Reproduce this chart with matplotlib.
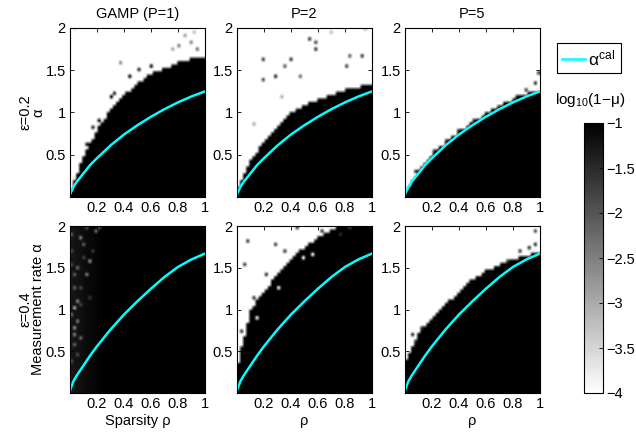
import numpy as np
import matplotlib.pyplot as plt
from matplotlib.lines import Line2D

plt.rcParams['font.family'] = ['Liberation Sans', 'DejaVu Sans']
plt.rcParams['mathtext.fontset'] = 'custom'
plt.rcParams['mathtext.rm'] = 'Liberation Sans'
plt.rcParams['mathtext.it'] = 'Liberation Sans:italic'
plt.rcParams['font.size'] = 10.5

# alpha_cal curves
rho_curve = [0, 0.025, 0.05, 0.1, 0.15, 0.2, 0.3, 0.4, 0.5, 0.6, 0.7, 0.8, 0.9, 1.0]
alpha_cal_eps02 = [0.03, 0.12, 0.18, 0.28, 0.38, 0.46, 0.61, 0.74, 0.85, 0.95, 1.04, 1.12, 1.19, 1.25]
alpha_cal_eps04 = [0.03, 0.14, 0.21, 0.33, 0.45, 0.56, 0.76, 0.94, 1.10, 1.25, 1.39, 1.51, 1.60, 1.67]

# upper edge of the solved (black) region, per rho
rho_edge = [0, 0.1, 0.2, 0.3, 0.4, 0.5, 0.6, 0.7, 0.8, 0.9, 1.0]
edge_p1_eps02 = [0.05, 0.48, 0.79, 1.03, 1.20, 1.33, 1.45, 1.51, 1.58, 1.63, 1.66]
edge_p2_eps02 = [0.10, 0.42, 0.66, 0.85, 0.99, 1.08, 1.15, 1.21, 1.26, 1.30, 1.33]
edge_p5_eps02 = [0.05, 0.31, 0.49, 0.64, 0.77, 0.88, 0.98, 1.07, 1.15, 1.21, 1.26]
edge_p1_eps04 = [2.1, 2.1, 2.1, 2.1, 2.1, 2.1, 2.1, 2.1, 2.1, 2.1, 2.1]
edge_p2_eps04 = [0.30, 1.00, 1.23, 1.41, 1.61, 1.75, 1.87, 1.95, 2.1, 2.1, 2.1]
edge_p5_eps04 = [0.35, 0.72, 0.90, 1.05, 1.22, 1.36, 1.46, 1.54, 1.60, 1.65, 1.68]

# isolated cells (rho, alpha, log10(1-mu))
dots_p1_eps02 = [(0.04, 1.97, -3.6), (0.365, 1.56, -2.6), (0.85, 1.88, -2.8), (0.9, 1.8, -2.5),
                 (0.93, 1.95, -3.2), (0.75, 1.72, -2.9), (0.8, 1.76, -2.4), (0.95, 1.72, -2.2),
                 (0.30, 1.18, -1.0), (0.22, 0.90, -1.0), (0.45, 1.42, -1.0), (0.6, 1.55, -1.0),
                 (0.12, 0.60, -1.2), (0.18, 0.82, -1.3), (0.33, 1.22, -1.4), (0.52, 1.48, -1.3)]
dots_p2_eps02 = [(0.19, 1.60, -1.6), (0.19, 1.37, -1.8), (0.29, 1.40, -1.4), (0.35, 1.52, -1.9),
                 (0.39, 1.62, -1.5), (0.47, 1.42, -2.2), (0.53, 1.85, -1.6), (0.57, 1.83, -1.8),
                 (0.57, 1.72, -1.5), (0.81, 1.52, -1.7), (0.92, 1.64, -1.5), (0.83, 1.66, -2.0),
                 (0.13, 0.85, -3.0), (0.34, 1.19, -3.0), (0.7, 1.93, -3.2), (0.95, 1.98, -3.0)]
dots_p5_eps02 = [(0.99, 1.46, -1.8), (0.955, 1.33, -1.5), (0.905, 1.27, -1.6), (0.82, 1.19, -1.3),
                 (0.69, 1.07, -1.5), (0.62, 0.99, -1.6), (0.51, 0.89, -1.5), (0.40, 0.76, -1.4),
                 (0.30, 0.64, -1.5), (0.22, 0.52, -1.6), (0.16, 0.42, -1.5), (0.09, 0.30, -1.6)]
dots_p1_eps04 = [(0.186, 1.92, -2.4), (0.15, 1.58, -2.8), (0.124, 1.43, -2.5), (0.05, 1.10, -2.6),
                 (0.037, 1.0, -3.0), (0.03, 0.78, -2.7), (0.037, 0.68, -2.5), (0.087, 0.64, -2.3),
                 (0.025, 0.58, -2.2), (0.06, 1.49, -2.3), (0.07, 1.85, -2.6), (0.11, 1.77, -2.2),
                 (0.22, 1.97, -2.0), (0.037, 1.27, -2.2), (0.017, 0.38, -2.0), (0.05, 0.86, -2.4),
                 (0.02, 1.70, -2.0), (0.09, 1.25, -1.9), (0.13, 1.96, -2.0), (0.03, 1.40, -2.1),
                 (0.01, 0.95, -2.3), (0.08, 1.05, -1.8), (0.14, 1.12, -1.7), (0.01, 1.55, -1.9),
                 (0.10, 1.62, -1.8), (0.17, 1.70, -1.7), (0.05, 0.45, -1.9), (0.01, 1.88, -2.2)]
dots_p2_eps04 = [(0.085, 1.81, -1.6), (0.29, 1.78, -1.7), (0.067, 1.54, -1.6), (0.21, 1.43, -1.5),
                 (0.44, 1.96, -1.6), (0.84, 1.99, -1.7), (0.75, 1.89, -1.5), (0.485, 1.62, -4.0),
                 (0.55, 1.67, -4.0), (0.30, 1.27, -4.0), (0.15, 0.88, -4.0), (0.04, 0.55, -1.3),
                 (0.03, 0.75, -1.5), (0.12, 1.15, -1.4), (0.36, 1.68, -1.5), (0.62, 1.95, -1.4)]
dots_p5_eps04 = [(0.97, 1.93, -1.8), (0.96, 1.77, -1.5), (0.92, 1.73, -1.4), (0.86, 1.69, -1.5),
                 (0.77, 1.56, -1.6), (0.05, 0.68, -1.4), (0.08, 0.62, -1.5), (0.12, 0.76, -1.6)]

# faint speckle haze in the low-rho columns of the P=1, eps=0.4 panel
haze_rho = [0, 0.05, 0.1, 0.15, 0.2, 0.25, 0.3]
haze_val = [-1.28, -1.22, -1.16, -1.1, -1.05, -1.02, -1.0]

titles = ['GAMP (P=1)', 'P=2', 'P=5']
edges = [[edge_p1_eps02, edge_p2_eps02, edge_p5_eps02],
         [edge_p1_eps04, edge_p2_eps04, edge_p5_eps04]]
dots = [[dots_p1_eps02, dots_p2_eps02, dots_p5_eps02],
        [dots_p1_eps04, dots_p2_eps04, dots_p5_eps04]]
curves = [alpha_cal_eps02, alpha_cal_eps04]

n_rho, n_alpha = 44, 50
rho_c = (np.arange(n_rho) + 0.5) / n_rho
alpha_c = (np.arange(n_alpha) + 0.5) / n_alpha * 2


def build_grid(edge, pts, haze=False):
    lim = np.interp(rho_c, rho_edge, edge)
    Z = np.where(alpha_c[:, None] < lim[None, :], -1.0, -4.0)
    if haze:
        Z = np.minimum(Z, np.interp(rho_c, haze_rho, haze_val)[None, :])
    for r, a, v in pts:
        i = min(int(a / 2 * n_alpha), n_alpha - 1)
        j = min(int(r * n_rho), n_rho - 1)
        Z[i, j] = v
    return Z


fig = plt.figure(figsize=(6.36, 4.38), dpi=100)
W, H = 636.0, 438.0
lefts = [70, 237, 405]
rows = [(28, 197), (226, 393)]

for r in range(2):
    for c in range(3):
        top, bot = rows[r]
        ax = fig.add_axes([lefts[c] / W, 1 - bot / H, 135 / W, (bot - top) / H])
        Z = build_grid(edges[r][c], dots[r][c], haze=(r == 1 and c == 0))
        im = ax.imshow(Z, extent=[0, 1, 0, 2], origin='lower', aspect='auto',
                       cmap='gray_r', vmin=-4, vmax=-1, interpolation='bilinear')
        ax.plot(rho_curve, curves[r], color='cyan', lw=1.8)
        ax.set_xlim(0, 1)
        ax.set_ylim(0, 2)
        ax.set_xticks([0.2, 0.4, 0.6, 0.8, 1])
        ax.set_xticklabels(['0.2', '0.4', '0.6', '0.8', '1'])
        ax.set_yticks([0.5, 1, 1.5, 2])
        ax.set_yticklabels(['0.5', '1', '1.5', '2'])
        ax.tick_params(direction='in', top=True, right=True, length=3, width=0.6,
                       labelsize=10.5, pad=3)
        for s in ax.spines.values():
            s.set_linewidth(0.8)
        if r == 0:
            ax.set_title(titles[c], fontsize=10.5, pad=7)
        if c == 0:
            ax.set_ylabel('ε=0.2\nα' if r == 0 else 'ε=0.4\nMeasurement rate α',
                          fontsize=10.5, labelpad=0, linespacing=0.9)
        if r == 1:
            ax.set_xlabel('Sparsity ρ' if c == 0 else 'ρ', fontsize=10.5, labelpad=2)

cax = fig.add_axes([584 / W, 1 - 393 / H, 19 / W, 270 / H])
cb = fig.colorbar(im, cax=cax, ticks=[-1, -1.5, -2, -2.5, -3, -3.5, -4])
cb.ax.set_yticklabels(['−1', '−1.5', '−2', '−2.5', '−3', '−3.5', '−4'])
cax.tick_params(direction='in', length=3, width=0.6, labelsize=10.5, pad=2)
cb.outline.set_linewidth(0.8)

fig.text(590 / W, 1 - 100 / H, r'log$_{10}$(1−μ)', ha='center', va='center', fontsize=11)

leg = fig.legend(handles=[Line2D([], [], color='cyan', lw=1.8)],
                 labels=[r'α$^{\rm cal}$'], loc='upper left',
                 bbox_to_anchor=(557 / W, 1 - 43 / H), fancybox=False, edgecolor='black',
                 framealpha=1, borderpad=0.3, handlelength=1.3, handletextpad=0.2,
                 borderaxespad=0, fontsize=12.5)
leg.get_frame().set_linewidth(0.8)

fig.savefig('out.png', dpi=100)
